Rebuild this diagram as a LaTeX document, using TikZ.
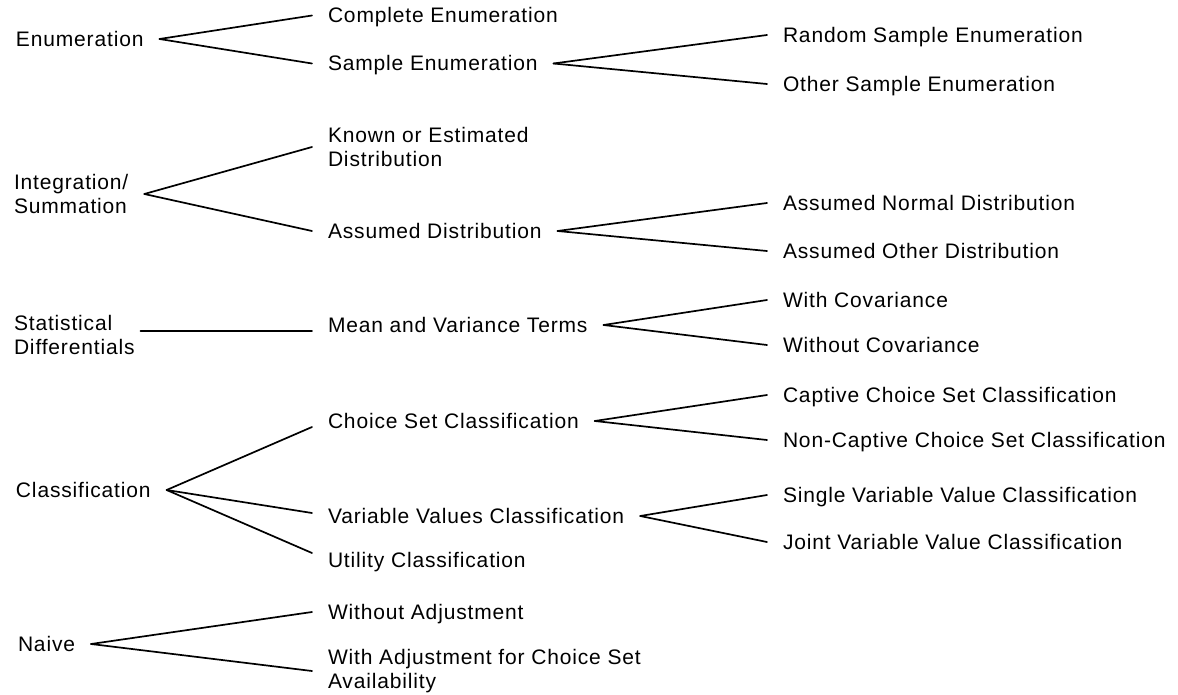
\documentclass[tikz,border=0pt]{standalone}
\usepackage{fontspec}
\setmainfont{Liberation Sans}[LetterSpace=4]
\begin{document}
\begin{tikzpicture}[x=1pt,y=-1pt,
  every node/.style={font=\fontsize{21}{23.5}\selectfont, inner xsep=0pt, inner ysep=0pt, outer xsep=16pt, outer ysep=0pt, anchor=west},
  lab/.style={text height=14.5pt, text depth=0pt},
  lab2/.style={align=left},
  link/.style={line width=1.7pt, line cap=round}]
\useasboundingbox (0,0) rectangle (1178,695);
% column 1
\node[lab]  (enum)  at (0,39)   {Enumeration};
\node[lab2] (integ) at (-2,194) {Integration/\\Summation};
\node[lab2] (stat)  at (-2,335) {Statistical\\Differentials};
\node[lab]  (class) at (0,490)  {Classification};
\node[lab]  (naive) at (2,644)  {Naive};
% column 2
\node[lab]  (complete) at (312,15.5) {Complete Enumeration};
\node[lab]  (sample)   at (312,63.5) {Sample Enumeration};
\node[lab2] (known)    at (312,147)  {Known or Estimated\\Distribution};
\node[lab]  (assumed)  at (312,231)  {Assumed Distribution};
\node[lab]  (mean)     at (312,325)  {Mean and Variance Terms};
\node[lab]  (choice)   at (312,421)  {Choice Set Classification};
\node[lab]  (variable) at (312,516)  {Variable Values Classification};
\node[lab]  (utility)  at (312,560)  {Utility Classification};
\node[lab]  (without)  at (312,612)  {Without Adjustment};
\node[lab2] (withadj)  at (312,671)  {With Adjustment for Choice Set\\Availability};
% column 3
\node[lab] (random)     at (767,35)  {Random Sample Enumeration};
\node[lab] (othersamp)  at (767,84)  {Other Sample Enumeration};
\node[lab] (normal)     at (767,203) {Assumed Normal Distribution};
\node[lab] (otherdist)  at (767,251) {Assumed Other Distribution};
\node[lab] (withcov)    at (767,300) {With Covariance};
\node[lab] (withoutcov) at (767,345) {Without Covariance};
\node[lab] (captive)    at (767,395) {Captive Choice Set Classification};
\node[lab] (noncaptive) at (767,440) {Non-Captive Choice Set Classification};
\node[lab] (single)     at (767,495) {Single Variable Value Classification};
\node[lab] (joint)      at (767,542) {Joint Variable Value Classification};
% connectors
\draw[link] (enum.east) -- (complete.west);
\draw[link] (enum.east) -- (sample.west);
\draw[link] (sample.east) -- (random.west);
\draw[link] (sample.east) -- (othersamp.west);
\draw[link] (integ.east) -- (known.west);
\draw[link] (integ.east) -- (assumed.west);
\draw[link] (assumed.east) -- (normal.west);
\draw[link] (assumed.east) -- (otherdist.west);
\draw[link] ([xshift=-10pt,yshift=4pt]stat.east) -- ([yshift=-6pt]mean.west);
\draw[link] (mean.east) -- (withcov.west);
\draw[link] (mean.east) -- (withoutcov.west);
\draw[link] (class.east) -- ([yshift=-6pt]choice.west);
\draw[link] (class.east) -- ([yshift=3pt]variable.west);
\draw[link] (class.east) -- ([yshift=7pt]utility.west);
\draw[link] (choice.east) -- (captive.west);
\draw[link] (choice.east) -- (noncaptive.west);
\draw[link] (variable.east) -- (single.west);
\draw[link] (variable.east) -- (joint.west);
\draw[link] (naive.east) -- (without.west);
\draw[link] (naive.east) -- (withadj.west);
\end{tikzpicture}
\end{document}
